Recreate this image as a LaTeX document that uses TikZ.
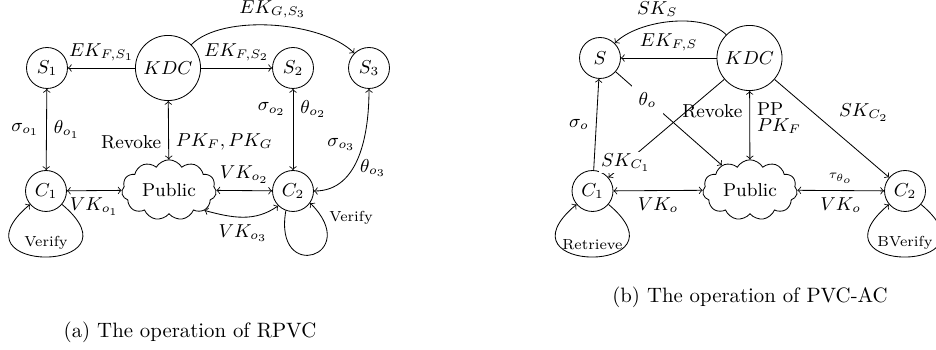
\documentclass[tikz,border=0pt]{standalone}
\usetikzlibrary{shapes.symbols}
\begin{document}
\begin{tikzpicture}[x=0.48077pt,y=0.48077pt,
  every node/.style={font=\fontsize{9}{10.8}\selectfont},
  sn/.style={circle,draw,inner sep=0pt,minimum size=19.7pt},
  kdc/.style={circle,draw,inner sep=0pt,minimum size=31.3pt},
  pub/.style={cloud,draw,cloud puffs=11,cloud puff arc=120,cloud ignores aspect,inner sep=0pt,minimum width=45.5pt,minimum height=29pt},
  lab/.style={font=\fontsize{7}{8.4}\selectfont},
  captext/.style={font=\fontsize{10}{12}\selectfont},
  cut/.style={fill=white}
]
\useasboundingbox (0,0) rectangle (936,350);
\clip (0,0) rectangle (936,350);
% ---------- (a) RPVC ----------
\node[sn] (S1) at (47,282) {$S_1$};
\node[kdc] (K1) at (168,282) {$KDC$};
\node[sn] (S2) at (293,282) {$S_2$};
\node[sn] (S3) at (369,282) {$S_3$};
\node[sn] (C1) at (46,159) {$C_1$};
\node[pub] (P1) at (169,160) {Public};
\node[sn] (C2) at (293,159) {$C_2$};

\draw[->] (K1) -- node[above] {$EK_{F,S_1}$} (S1);
\draw[->] (K1) -- node[above] {$EK_{F,S_2}$} (S2);
\draw[->] (K1) to[out=45,in=135,looseness=0.7] node[above] {$EK_{G,S_3}$} (S3);
\draw[<->] (S1) -- node[left] {$\sigma_{o_1}$} node[right] {$\theta_{o_1}$} (C1);
\draw[<->] (K1) -- node[pos=0.7,left] {Revoke} node[pos=0.7,right] {$PK_F,PK_G$} (P1);
\draw[<->] (S2) -- node[pos=0.25,left] {$\sigma_{o_2}$} node[pos=0.25,right] {$\theta_{o_2}$} (C2);
\draw[<->] (C2) to[out=0,in=-90] node[pos=0.6,left] {$\sigma_{o_3}$} node[pos=0.4,right] {$\theta_{o_3}$} (S3);
\draw[<->] (C1) -- node[below] {$VK_{o_1}$} (P1);
\draw[<->] (P1) -- node[above] {$VK_{o_2}$} (C2);
\draw[<->] (P1.-30) to[out=-15,in=-145] node[below] {$VK_{o_3}$} (C2.-135);
\draw[->] (C1.-40) .. controls +(-40:109) and +(-140:109) .. node[above,lab] {Verify} (C1.-140);
\draw[->] (C2.-110) .. controls +(-100:75) and +(-45:75) .. node[pos=0.9,right,lab] {Verify} (C2.-35);
\node[captext] (capa) at (190,18) {(a) The operation of RPVC};

% ---------- (b) PVC-AC ----------
\node[sn] (S) at (600,292) {$S$};
\node[kdc] (K2) at (749.5,292) {$KDC$};
\node[sn] (D1) at (592.5,159) {$C_1$};
\node[pub] (P2) at (750,160) {Public};
\node[sn] (D2) at (905,159) {$C_2$};

\draw[->] (K2) to[out=135,in=45,looseness=0.75] node[pos=0.6,above] {$SK_S$} (S);
\draw[->] (K2) -- node[above] {$EK_{F,S}$} (S);
\draw[->] (D1) -- node[left] {$\sigma_o$} (S);
\draw[->] (S) -- node[pos=0.3,cut] {$\theta_o$} (P2);
\draw[->] (K2) -- node[pos=0.85,cut,inner sep=1pt] {$SK_{C_1}$} (D1);
\draw[<->] (K2) -- node[pos=0.3,left] {Revoke} node[pos=0.27,right] {PP} node[pos=0.52,right] {$PK_F$} (P2);
\draw[->] (K2) -- node[above right] {$SK_{C_2}$} (D2);
\draw[<->] (D1) -- node[below] {$VK_o$} (P2);
\draw[<->] (P2) -- node[above] {$\scriptstyle\tau_{\theta_o}$} node[below] {$VK_o$} (D2);
\draw[->] (D1.-40) .. controls +(-40:109) and +(-140:109) .. node[above,lab] {Retrieve} (D1.-140);
\draw[->] (D2.-40) .. controls +(-40:109) and +(-140:109) .. node[above,lab] {BVerify} (D2.-140);
\node[captext] (capb) at (750,53) {(b) The operation of PVC-AC};
\end{tikzpicture}
\end{document}
